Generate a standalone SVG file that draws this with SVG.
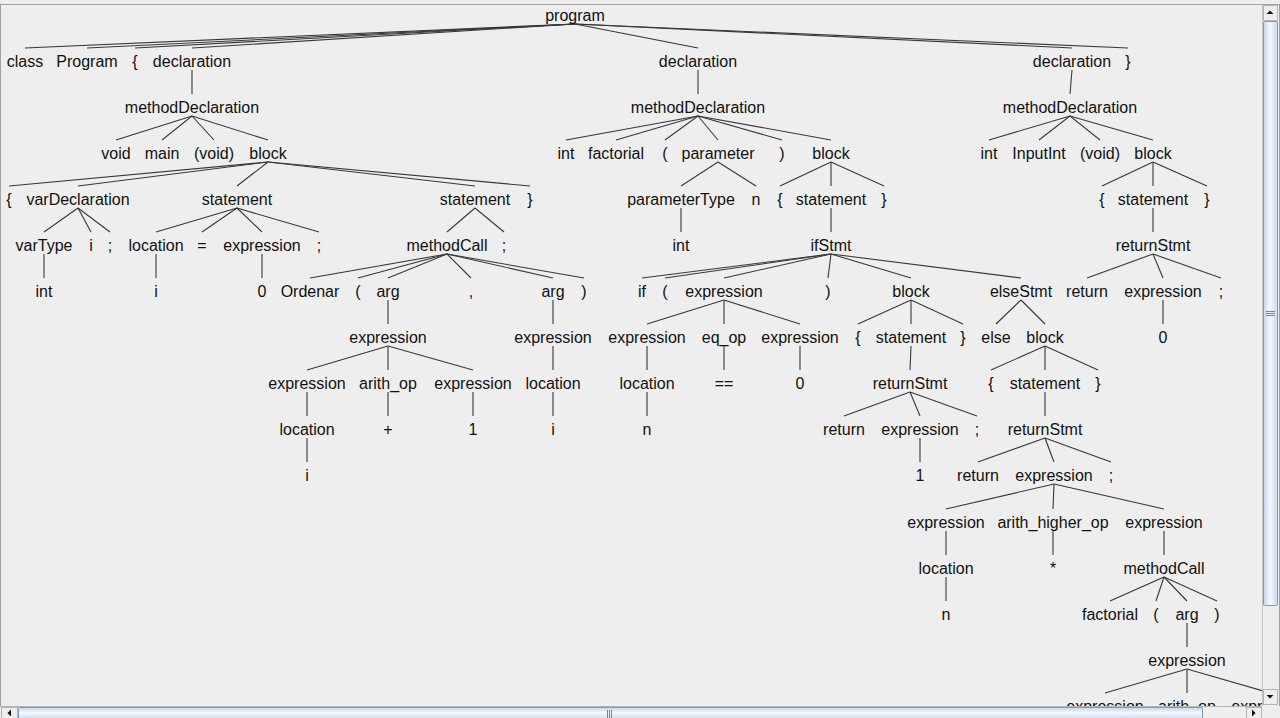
<svg xmlns="http://www.w3.org/2000/svg" width="1280" height="718" viewBox="0 0 1280 718">
<defs>
<style>
.t{font-family:"Liberation Sans",Arial,Helvetica,sans-serif;font-size:16px;fill:#111;text-anchor:middle}
#edges line{stroke:#383838;stroke-width:1.1}
.btn{fill:#eeeeee;stroke:#b4b4b4;stroke-width:1}
.arr{fill:#111}
.grip{stroke:#6f86b3;stroke-width:1}
</style>
<linearGradient id="vthumb" x1="0" y1="0" x2="1" y2="0">
<stop offset="0" stop-color="#c3d4ee"/>
<stop offset="0.45" stop-color="#f6f9fd"/>
<stop offset="1" stop-color="#c9d8ef"/>
</linearGradient>
<linearGradient id="hthumb" x1="0" y1="0" x2="0" y2="1">
<stop offset="0" stop-color="#c3d4ee"/>
<stop offset="0.45" stop-color="#f6f9fd"/>
<stop offset="1" stop-color="#c9d8ef"/>
</linearGradient>
<clipPath id="vp"><rect x="1" y="5" width="1261" height="701"/></clipPath>
</defs>
<rect width="1280" height="718" fill="#eeeeee"/>
<rect x="0.5" y="4.5" width="1279" height="716" fill="none" stroke="#a0a0a0"/>
<g clip-path="url(#vp)">
<g id="edges">
<line x1="575" y1="24" x2="25" y2="48"/>
<line x1="575" y1="24" x2="87" y2="48"/>
<line x1="575" y1="24" x2="135" y2="48"/>
<line x1="575" y1="24" x2="192" y2="48"/>
<line x1="575" y1="24" x2="698" y2="48"/>
<line x1="575" y1="24" x2="1072" y2="48"/>
<line x1="575" y1="24" x2="1128" y2="48"/>
<line x1="192" y1="70" x2="192" y2="94"/>
<line x1="192" y1="116" x2="116" y2="140"/>
<line x1="192" y1="116" x2="162" y2="140"/>
<line x1="192" y1="116" x2="214" y2="140"/>
<line x1="192" y1="116" x2="268" y2="140"/>
<line x1="268" y1="162" x2="9" y2="186"/>
<line x1="268" y1="162" x2="78" y2="186"/>
<line x1="268" y1="162" x2="237" y2="186"/>
<line x1="268" y1="162" x2="475" y2="186"/>
<line x1="268" y1="162" x2="530" y2="186"/>
<line x1="78" y1="208" x2="44" y2="232"/>
<line x1="78" y1="208" x2="91" y2="232"/>
<line x1="78" y1="208" x2="110" y2="232"/>
<line x1="44" y1="254" x2="44" y2="278"/>
<line x1="237" y1="208" x2="156" y2="232"/>
<line x1="237" y1="208" x2="202" y2="232"/>
<line x1="237" y1="208" x2="262" y2="232"/>
<line x1="237" y1="208" x2="319" y2="232"/>
<line x1="156" y1="254" x2="156" y2="278"/>
<line x1="262" y1="254" x2="262" y2="278"/>
<line x1="475" y1="208" x2="447" y2="232"/>
<line x1="475" y1="208" x2="504" y2="232"/>
<line x1="447" y1="254" x2="310" y2="278"/>
<line x1="447" y1="254" x2="358" y2="278"/>
<line x1="447" y1="254" x2="388" y2="278"/>
<line x1="447" y1="254" x2="471" y2="278"/>
<line x1="447" y1="254" x2="553" y2="278"/>
<line x1="447" y1="254" x2="584" y2="278"/>
<line x1="388" y1="300" x2="388" y2="324"/>
<line x1="388" y1="346" x2="307" y2="370"/>
<line x1="388" y1="346" x2="388" y2="370"/>
<line x1="388" y1="346" x2="473" y2="370"/>
<line x1="307" y1="392" x2="307" y2="416"/>
<line x1="307" y1="438" x2="307" y2="462"/>
<line x1="388" y1="392" x2="388" y2="416"/>
<line x1="473" y1="392" x2="473" y2="416"/>
<line x1="553" y1="300" x2="553" y2="324"/>
<line x1="553" y1="346" x2="553" y2="370"/>
<line x1="553" y1="392" x2="553" y2="416"/>
<line x1="698" y1="70" x2="698" y2="94"/>
<line x1="698" y1="116" x2="566" y2="140"/>
<line x1="698" y1="116" x2="616" y2="140"/>
<line x1="698" y1="116" x2="665" y2="140"/>
<line x1="698" y1="116" x2="718" y2="140"/>
<line x1="698" y1="116" x2="782" y2="140"/>
<line x1="698" y1="116" x2="831" y2="140"/>
<line x1="718" y1="162" x2="681" y2="186"/>
<line x1="718" y1="162" x2="756" y2="186"/>
<line x1="681" y1="208" x2="681" y2="232"/>
<line x1="831" y1="162" x2="780" y2="186"/>
<line x1="831" y1="162" x2="831" y2="186"/>
<line x1="831" y1="162" x2="884" y2="186"/>
<line x1="831" y1="208" x2="831" y2="232"/>
<line x1="831" y1="254" x2="642" y2="278"/>
<line x1="831" y1="254" x2="665" y2="278"/>
<line x1="831" y1="254" x2="724" y2="278"/>
<line x1="831" y1="254" x2="828" y2="278"/>
<line x1="831" y1="254" x2="911" y2="278"/>
<line x1="831" y1="254" x2="1021" y2="278"/>
<line x1="724" y1="300" x2="647" y2="324"/>
<line x1="724" y1="300" x2="724" y2="324"/>
<line x1="724" y1="300" x2="800" y2="324"/>
<line x1="647" y1="346" x2="647" y2="370"/>
<line x1="647" y1="392" x2="647" y2="416"/>
<line x1="724" y1="346" x2="724" y2="370"/>
<line x1="800" y1="346" x2="800" y2="370"/>
<line x1="911" y1="300" x2="858" y2="324"/>
<line x1="911" y1="300" x2="911" y2="324"/>
<line x1="911" y1="300" x2="963" y2="324"/>
<line x1="911" y1="346" x2="910" y2="370"/>
<line x1="910" y1="392" x2="844" y2="416"/>
<line x1="910" y1="392" x2="920" y2="416"/>
<line x1="910" y1="392" x2="977" y2="416"/>
<line x1="920" y1="438" x2="920" y2="462"/>
<line x1="1021" y1="300" x2="996" y2="324"/>
<line x1="1021" y1="300" x2="1045" y2="324"/>
<line x1="1045" y1="346" x2="991" y2="370"/>
<line x1="1045" y1="346" x2="1045" y2="370"/>
<line x1="1045" y1="346" x2="1098" y2="370"/>
<line x1="1045" y1="392" x2="1045" y2="416"/>
<line x1="1045" y1="438" x2="978" y2="462"/>
<line x1="1045" y1="438" x2="1054" y2="462"/>
<line x1="1045" y1="438" x2="1111" y2="462"/>
<line x1="1054" y1="484" x2="946" y2="509"/>
<line x1="1054" y1="484" x2="1053" y2="509"/>
<line x1="1054" y1="484" x2="1164" y2="509"/>
<line x1="946" y1="531" x2="946" y2="555"/>
<line x1="946" y1="577" x2="946" y2="601"/>
<line x1="1053" y1="531" x2="1053" y2="555"/>
<line x1="1164" y1="531" x2="1164" y2="555"/>
<line x1="1164" y1="577" x2="1110" y2="601"/>
<line x1="1164" y1="577" x2="1156" y2="601"/>
<line x1="1164" y1="577" x2="1187" y2="601"/>
<line x1="1164" y1="577" x2="1217" y2="601"/>
<line x1="1187" y1="623" x2="1187" y2="647"/>
<line x1="1187" y1="669" x2="1105" y2="693"/>
<line x1="1187" y1="669" x2="1187" y2="693"/>
<line x1="1187" y1="669" x2="1270" y2="693"/>
<line x1="1072" y1="70" x2="1070" y2="94"/>
<line x1="1070" y1="116" x2="989" y2="140"/>
<line x1="1070" y1="116" x2="1039" y2="140"/>
<line x1="1070" y1="116" x2="1100" y2="140"/>
<line x1="1070" y1="116" x2="1153" y2="140"/>
<line x1="1153" y1="162" x2="1102" y2="186"/>
<line x1="1153" y1="162" x2="1153" y2="186"/>
<line x1="1153" y1="162" x2="1207" y2="186"/>
<line x1="1153" y1="208" x2="1153" y2="232"/>
<line x1="1153" y1="254" x2="1087" y2="278"/>
<line x1="1153" y1="254" x2="1163" y2="278"/>
<line x1="1153" y1="254" x2="1221" y2="278"/>
<line x1="1163" y1="300" x2="1163" y2="324"/>
</g>
<g id="n_program"><text class="t" x="575" y="21">program</text></g>
<g id="n_class"><text class="t" x="25" y="67">class</text></g>
<g id="n_Program"><text class="t" x="87" y="67">Program</text></g>
<g id="n_lbrace0"><text class="t" x="135" y="67">{</text></g>
<g id="n_decl1"><text class="t" x="192" y="67">declaration</text></g>
<g id="n_decl2"><text class="t" x="698" y="67">declaration</text></g>
<g id="n_decl3"><text class="t" x="1072" y="67">declaration</text></g>
<g id="n_rbrace0"><text class="t" x="1128" y="67">}</text></g>
<g id="n_md1"><text class="t" x="192" y="113">methodDeclaration</text></g>
<g id="n_md2"><text class="t" x="698" y="113">methodDeclaration</text></g>
<g id="n_md3"><text class="t" x="1070" y="113">methodDeclaration</text></g>
<g id="n_void1"><text class="t" x="116" y="159">void</text></g>
<g id="n_main"><text class="t" x="162" y="159">main</text></g>
<g id="n_pvoid1"><text class="t" x="214" y="159">(void)</text></g>
<g id="n_block1"><text class="t" x="268" y="159">block</text></g>
<g id="n_int2"><text class="t" x="566" y="159">int</text></g>
<g id="n_factorial"><text class="t" x="616" y="159">factorial</text></g>
<g id="n_lp2"><text class="t" x="665" y="159">(</text></g>
<g id="n_parameter"><text class="t" x="718" y="159">parameter</text></g>
<g id="n_rp2"><text class="t" x="782" y="159">)</text></g>
<g id="n_block2"><text class="t" x="831" y="159">block</text></g>
<g id="n_int3"><text class="t" x="989" y="159">int</text></g>
<g id="n_InputInt"><text class="t" x="1039" y="159">InputInt</text></g>
<g id="n_pvoid3"><text class="t" x="1100" y="159">(void)</text></g>
<g id="n_block3"><text class="t" x="1153" y="159">block</text></g>
<g id="n_lb1"><text class="t" x="9" y="205">{</text></g>
<g id="n_varDecl"><text class="t" x="78" y="205">varDeclaration</text></g>
<g id="n_stmt1"><text class="t" x="237" y="205">statement</text></g>
<g id="n_stmt2"><text class="t" x="475" y="205">statement</text></g>
<g id="n_rb1"><text class="t" x="530" y="205">}</text></g>
<g id="n_paramType"><text class="t" x="681" y="205">parameterType</text></g>
<g id="n_n1"><text class="t" x="756" y="205">n</text></g>
<g id="n_lb2"><text class="t" x="780" y="205">{</text></g>
<g id="n_stmt3"><text class="t" x="831" y="205">statement</text></g>
<g id="n_rb2"><text class="t" x="884" y="205">}</text></g>
<g id="n_lb3"><text class="t" x="1102" y="205">{</text></g>
<g id="n_stmt4"><text class="t" x="1153" y="205">statement</text></g>
<g id="n_rb3"><text class="t" x="1207" y="205">}</text></g>
<g id="n_varType"><text class="t" x="44" y="251">varType</text></g>
<g id="n_i1"><text class="t" x="91" y="251">i</text></g>
<g id="n_semi1"><text class="t" x="110" y="251">;</text></g>
<g id="n_loc1"><text class="t" x="156" y="251">location</text></g>
<g id="n_eq"><text class="t" x="202" y="251">=</text></g>
<g id="n_expr1"><text class="t" x="262" y="251">expression</text></g>
<g id="n_semi2"><text class="t" x="319" y="251">;</text></g>
<g id="n_mc1"><text class="t" x="447" y="251">methodCall</text></g>
<g id="n_semi3"><text class="t" x="504" y="251">;</text></g>
<g id="n_int4"><text class="t" x="681" y="251">int</text></g>
<g id="n_ifStmt"><text class="t" x="831" y="251">ifStmt</text></g>
<g id="n_ret1"><text class="t" x="1153" y="251">returnStmt</text></g>
<g id="n_int1"><text class="t" x="44" y="297">int</text></g>
<g id="n_i2"><text class="t" x="156" y="297">i</text></g>
<g id="n_zero1"><text class="t" x="262" y="297">0</text></g>
<g id="n_Ordenar"><text class="t" x="310" y="297">Ordenar</text></g>
<g id="n_lp3"><text class="t" x="358" y="297">(</text></g>
<g id="n_arg1"><text class="t" x="388" y="297">arg</text></g>
<g id="n_comma"><text class="t" x="471" y="297">,</text></g>
<g id="n_arg2"><text class="t" x="553" y="297">arg</text></g>
<g id="n_rp3"><text class="t" x="584" y="297">)</text></g>
<g id="n_if"><text class="t" x="642" y="297">if</text></g>
<g id="n_lp4"><text class="t" x="665" y="297">(</text></g>
<g id="n_expr2"><text class="t" x="724" y="297">expression</text></g>
<g id="n_rp4"><text class="t" x="828" y="297">)</text></g>
<g id="n_block4"><text class="t" x="911" y="297">block</text></g>
<g id="n_elseStmt"><text class="t" x="1021" y="297">elseStmt</text></g>
<g id="n_return1"><text class="t" x="1087" y="297">return</text></g>
<g id="n_expr3"><text class="t" x="1163" y="297">expression</text></g>
<g id="n_semi4"><text class="t" x="1221" y="297">;</text></g>
<g id="n_expr4"><text class="t" x="388" y="343">expression</text></g>
<g id="n_expr5"><text class="t" x="553" y="343">expression</text></g>
<g id="n_expr6"><text class="t" x="647" y="343">expression</text></g>
<g id="n_eqop"><text class="t" x="724" y="343">eq_op</text></g>
<g id="n_expr7"><text class="t" x="800" y="343">expression</text></g>
<g id="n_lb4"><text class="t" x="858" y="343">{</text></g>
<g id="n_stmt5"><text class="t" x="911" y="343">statement</text></g>
<g id="n_rb4"><text class="t" x="963" y="343">}</text></g>
<g id="n_else"><text class="t" x="996" y="343">else</text></g>
<g id="n_block5"><text class="t" x="1045" y="343">block</text></g>
<g id="n_zero2"><text class="t" x="1163" y="343">0</text></g>
<g id="n_expr8"><text class="t" x="307" y="389">expression</text></g>
<g id="n_arithop1"><text class="t" x="388" y="389">arith_op</text></g>
<g id="n_expr9"><text class="t" x="473" y="389">expression</text></g>
<g id="n_loc2"><text class="t" x="553" y="389">location</text></g>
<g id="n_loc3"><text class="t" x="647" y="389">location</text></g>
<g id="n_eqeq"><text class="t" x="724" y="389">==</text></g>
<g id="n_zero3"><text class="t" x="800" y="389">0</text></g>
<g id="n_ret2"><text class="t" x="910" y="389">returnStmt</text></g>
<g id="n_lb5"><text class="t" x="991" y="389">{</text></g>
<g id="n_stmt6"><text class="t" x="1045" y="389">statement</text></g>
<g id="n_rb5"><text class="t" x="1098" y="389">}</text></g>
<g id="n_loc4"><text class="t" x="307" y="435">location</text></g>
<g id="n_plus"><text class="t" x="388" y="435">+</text></g>
<g id="n_one1"><text class="t" x="473" y="435">1</text></g>
<g id="n_i3"><text class="t" x="553" y="435">i</text></g>
<g id="n_n2"><text class="t" x="647" y="435">n</text></g>
<g id="n_return2"><text class="t" x="844" y="435">return</text></g>
<g id="n_expr10"><text class="t" x="920" y="435">expression</text></g>
<g id="n_semi5"><text class="t" x="977" y="435">;</text></g>
<g id="n_ret3"><text class="t" x="1045" y="435">returnStmt</text></g>
<g id="n_i4"><text class="t" x="307" y="481">i</text></g>
<g id="n_one2"><text class="t" x="920" y="481">1</text></g>
<g id="n_return3"><text class="t" x="978" y="481">return</text></g>
<g id="n_expr11"><text class="t" x="1054" y="481">expression</text></g>
<g id="n_semi6"><text class="t" x="1111" y="481">;</text></g>
<g id="n_expr12"><text class="t" x="946" y="528">expression</text></g>
<g id="n_aho"><text class="t" x="1053" y="528">arith_higher_op</text></g>
<g id="n_expr13"><text class="t" x="1164" y="528">expression</text></g>
<g id="n_loc5"><text class="t" x="946" y="574">location</text></g>
<g id="n_star"><text class="t" x="1053" y="574">*</text></g>
<g id="n_mc2"><text class="t" x="1164" y="574">methodCall</text></g>
<g id="n_n3"><text class="t" x="946" y="620">n</text></g>
<g id="n_factorial2"><text class="t" x="1110" y="620">factorial</text></g>
<g id="n_lp5"><text class="t" x="1156" y="620">(</text></g>
<g id="n_arg3"><text class="t" x="1187" y="620">arg</text></g>
<g id="n_rp5"><text class="t" x="1217" y="620">)</text></g>
<g id="n_expr14"><text class="t" x="1187" y="666">expression</text></g>
<g id="n_expr15"><text class="t" x="1105" y="712">expression</text></g>
<g id="n_arithop2"><text class="t" x="1187" y="712">arith_op</text></g>
<g id="n_expr16"><text class="t" x="1270" y="712">expression</text></g>
</g>
<g id="vscroll">
<rect x="1262" y="5" width="17" height="701" fill="#eeeeee"/>
<line x1="1262.5" y1="5" x2="1262.5" y2="706" stroke="#c4c4c4"/>
<rect class="btn" x="1263.5" y="5.5" width="14" height="15"/>
<polygon class="arr" points="1266.5,14 1273.5,14 1270,10.5"/>
<rect x="1263.5" y="21.5" width="14" height="584" rx="1" fill="url(#vthumb)" stroke="#8397bf"/>
<line class="grip" x1="1266" y1="311.5" x2="1275" y2="311.5"/>
<line class="grip" x1="1266" y1="313.5" x2="1275" y2="313.5"/>
<line class="grip" x1="1266" y1="315.5" x2="1275" y2="315.5"/>
<rect class="btn" x="1263.5" y="689.5" width="14" height="15"/>
<polygon class="arr" points="1266.5,695 1273.5,695 1270,698.5"/>
</g>
<g id="hscroll">
<rect x="0" y="706" width="1280" height="12" fill="#eeeeee"/>
<line x1="0" y1="706.5" x2="1262" y2="706.5" stroke="#b4b4b4"/>
<rect class="btn" x="1.5" y="707.5" width="16" height="12"/>
<polygon class="arr" points="7.5,713 11,709.5 11,716.5"/>
<rect x="18.5" y="707.5" width="1184" height="12" rx="1" fill="url(#hthumb)" stroke="#8397bf"/>
<line class="grip" x1="607.5" y1="710" x2="607.5" y2="718"/>
<line class="grip" x1="609.5" y1="710" x2="609.5" y2="718"/>
<line class="grip" x1="611.5" y1="710" x2="611.5" y2="718"/>
<rect class="btn" x="1246.5" y="707.5" width="15" height="12"/>
<polygon class="arr" points="1252,709.5 1255.5,713 1252,716.5"/>
</g>
</svg>
